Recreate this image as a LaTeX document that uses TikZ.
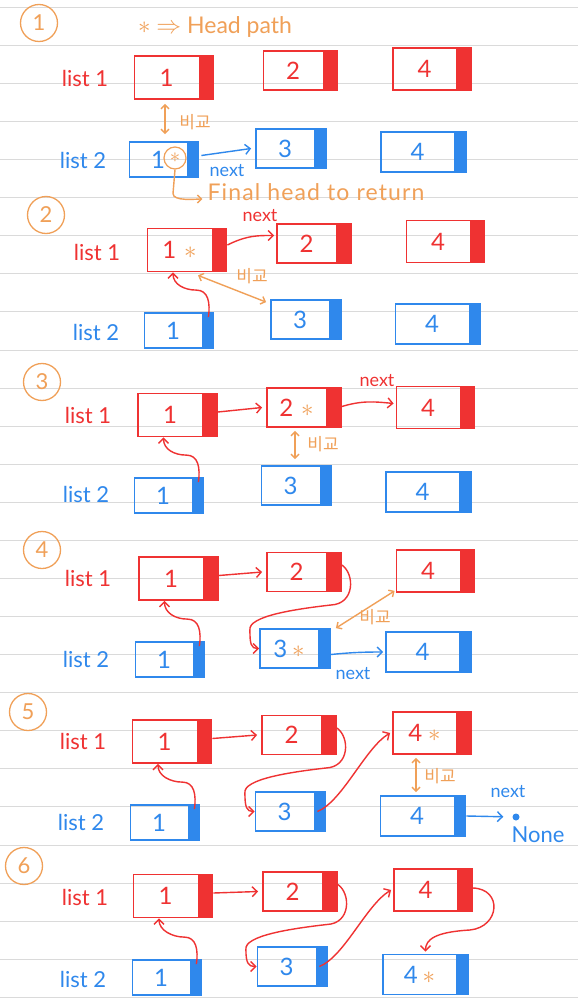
\documentclass[tikz,border=0pt]{standalone}
\usepackage{fontspec}
\setmainfont{Lato}
\newfontfamily\krfont{Noto Sans CJK KR}
\usetikzlibrary{arrows.meta,calc}
\definecolor{mred}{HTML}{EF3232}
\definecolor{mblue}{HTML}{2F88EC}
\definecolor{mora}{HTML}{F0A058}
\definecolor{rulec}{HTML}{DADADA}
\newcommand\st{\textcolor{mora}{$\ast$}}
\newcommand\fs[1]{\fontsize{#1}{#1}\selectfont}
\tikzset{
  rbox/.style={draw=mred, text=mred, line width=1.8pt, inner sep=0pt, font=\fs{24},
    execute at end node={\hspace*{15pt}},
    path picture={\fill[mred] ([xshift=-15pt]path picture bounding box.north east) rectangle (path picture bounding box.south east);}},
  bbox/.style={draw=mblue, text=mblue, line width=1.8pt, inner sep=0pt, font=\fs{24},
    execute at end node={\hspace*{12pt}},
    path picture={\fill[mblue] ([xshift=-12pt]path picture bounding box.north east) rectangle (path picture bounding box.south east);}},
  rA/.style={minimum width=79pt, minimum height=43pt},
  rB/.style={minimum width=74pt, minimum height=39pt},
  rC/.style={minimum width=78pt, minimum height=42pt},
  bA/.style={minimum width=69pt, minimum height=35pt},
  bB/.style={minimum width=70pt, minimum height=39pt},
  bC/.style={minimum width=85pt, minimum height=40pt},
  cnum/.style={circle, draw=mora, line width=1.3pt, text=mora, minimum size=37pt, inner sep=0pt, font=\fs{22}},
  lred/.style={text=mred, font=\fs{22}, inner sep=1pt},
  lblue/.style={text=mblue, font=\fs{22}, inner sep=1pt},
  ntred/.style={text=mred, font=\fs{18}, inner sep=1pt},
  ntblue/.style={text=mblue, font=\fs{18}, inner sep=1pt},
  otxt/.style={text=mora, font=\fs{23}, inner sep=1pt},
  cmpl/.style={text=mora, font=\krfont\fs{17}, inner sep=1pt},
  starc/.style={circle, draw=mora, line width=1.2pt, text=mora, minimum size=22pt, inner sep=0pt, font=\fs{20}},
  ra/.style={draw=mred, line width=1.4pt, -{Straight Barb[length=5pt,width=10pt]}},
  ba/.style={draw=mblue, line width=1.4pt, -{Straight Barb[length=5pt,width=10pt]}},
  oa/.style={draw=mora, line width=1.4pt, -{Straight Barb[length=4pt,width=8pt]}},
  cmp/.style={draw=mora, line width=1.4pt, {Straight Barb[length=4pt,width=8pt]}-{Straight Barb[length=4pt,width=8pt]}},
  dotn/.style={circle, fill=mblue, minimum size=7pt, inner sep=0pt},
}
\newcommand\scurve[1]{\draw[ra] ($(#1b1.north east)+(-6,5)$) .. controls +(2,-14) and +(12,0) .. ($(#1b1.north east)+(-18,-22)$) .. controls +(-12,0) and +(0,12) .. ($(#1r1.south)+(-14,0)$);}
\newcommand\rtob[1]{\draw[ra] ($(#1r2.east)+(0,-7)$) .. controls +(13,9) and +(24,-1) .. ($(#1r2.east)+(-11,33)$) .. controls +(-35,4) and +(-2,-14) .. ($(#1r2.east)+(-92,58)$) .. controls +(0,14) and +(-8,0) .. (#1b3.west);}
\newcommand\btor[1]{\draw[ra] ($(#1b3.east)+(-9,0)$) .. controls +(25,-10) and +(-25,15) .. ($(#1r4.west)+(-2,0)$);}
\begin{document}
\begin{tikzpicture}[x=1pt, y=-1pt]
\fill[white] (0,0) rectangle (578,1000);
\useasboundingbox (0,0) rectangle (578,1000);
\foreach \k in {0,...,26}{\draw[rulec, line width=1pt] (0,{7.3+38.08*\k}) -- (578,{7.3+38.08*\k});}

% ---------- Panel 1
\node[cnum] (c1) at (39,23) {1};
\node[otxt] (head) at (215,27) {$\ast$ $\Rightarrow$ Head path};
\node[lred] (p1l1) at (85,78) {list 1};
\node[lblue] (p1l2) at (83,160) {list 2};
\node[rbox,rA] (p1r1) at (174,77.5) {1};
\node[rbox,rB] (p1r2) at (300.5,70.5) {2};
\node[rbox,rC] (p1r4) at (432,69) {4};
\node[bbox,bA] (p1b1) at (164,159.5) {1};
\node[bbox,bB] (p1b3) at (291,148.5) {3};
\node[bbox,bC] (p1b4) at (423.5,152) {4};
\node[starc] (p1s) at (175,158) {$\ast$};
\draw[cmp] ($(p1r1.south)+(-9,4)$) -- ($(p1b1.north)+(1,-7)$);
\node[cmpl] (p1c) at (195,122) {비교};
\draw[ba] ($(p1b1.east)+(2,-4)$) -- ($(p1b3.west)+(-4,0)$);
\node[ntblue] (p1n) at (227,171) {next};
\node[otxt, font=\fs{23}\addfontfeature{LetterSpace=5}] (p1final) at (316,192) {Final head to return};
\draw[oa] (p1s.south) -- ($(p1s.south)+(-2,24)$) .. controls +(0,8) and +(-6,0) .. ($(p1final.west)+(-4,7)$);

% ---------- Panel 2
\node[cnum] (c2) at (46,215) {2};
\node[lred] (p2l1) at (97,252) {list 1};
\node[lblue] (p2l2) at (96,332) {list 2};
\node[rbox,rA] (p2r1) at (187,250) {1\hspace{8pt}\st};
\node[rbox,rB] (p2r2) at (314,243.5) {2};
\node[rbox,rC] (p2r4) at (445.5,241.5) {4};
\node[bbox,bA] (p2b1) at (179,330.5) {1};
\node[bbox,bB] (p2b3) at (306,319.5) {3};
\node[bbox,bC] (p2b4) at (438,324) {4};
\draw[ra] ($(p2r1.east)+(0,-5)$) .. controls +(20,-10) and +(-15,0) .. ($(p2r2.west)+(-2,-8)$);
\node[ntred] (p2n) at (260,216) {next};
\draw[cmp] ($(p2r1.south)+(11,3)$) -- ($(p2b3.north west)+(-4,3)$);
\node[cmpl] (p2c) at (252,276) {비교};
\scurve{p2}

% ---------- Panel 3
\node[cnum] (c3) at (42,382) {3};
\node[lred] (p3l1) at (88,415) {list 1};
\node[lblue] (p3l2) at (86,494) {list 2};
\node[rbox,rA] (p3r1) at (177.5,415) {1};
\node[rbox,rB] (p3r2) at (304,407.5) {2\hspace{8pt}\st};
\node[rbox,rC] (p3r4) at (435.5,407.5) {4};
\node[bbox,bA] (p3b1) at (169,495.5) {1};
\node[bbox,bB] (p3b3) at (296.5,485.5) {3};
\node[bbox,bC] (p3b4) at (428.5,492) {4};
\draw[ra] ($(p3r1.east)+(0,-3)$) -- ($(p3r2.west)+(-4,0)$);
\draw[ra] ($(p3r2.east)+(0,-1)$) .. controls +(20,-6) and +(-20,-2) .. ($(p3r4.west)+(-2,-4)$);
\node[ntred] (p3n) at (377,381) {next};
\draw[cmp] ($(p3r2.south)+(-9,3)$) -- ($(p3b3.north)+(-1.5,-6)$);
\node[cmpl] (p3c) at (323,444) {비교};
\scurve{p3}

% ---------- Panel 4
\node[cnum] (c4) at (42,550) {4};
\node[lred] (p4l1) at (88,578) {list 1};
\node[lblue] (p4l2) at (86,659) {list 2};
\node[rbox,rA] (p4r1) at (178.5,578.5) {1};
\node[rbox,rB] (p4r2) at (304,572) {2};
\node[rbox,rC] (p4r4) at (435.5,571) {4};
\node[bbox,bA] (p4b1) at (170,659.5) {1};
\node[bbox,bB] (p4b3) at (295,648.5) {3\hspace{5pt}\st};
\node[bbox,bC] (p4b4) at (428.5,652) {4};
\draw[ra] ($(p4r1.east)+(0,-3)$) -- ($(p4r2.west)+(-4,0)$);
\rtob{p4}
\draw[cmp] ($(p4r4.south west)+(-1,-2)$) -- ($(p4b3.north east)+(5,0)$);
\node[cmpl] (p4c) at (375,617) {비교};
\draw[ba] ($(p4b3.east)+(0,6)$) .. controls +(20,-2) and +(-20,0) .. ($(p4b4.west)+(-2,0)$);
\node[ntblue] (p4n) at (353,674) {next};
\scurve{p4}

% ---------- Panel 5
\node[cnum] (c5) at (28,712) {5};
\node[lred] (p5l1) at (83,741) {list 1};
\node[lblue] (p5l2) at (81,822) {list 2};
\node[rbox,rA] (p5r1) at (172,741.5) {1};
\node[rbox,rB] (p5r2) at (299,735) {2};
\node[rbox,rC] (p5r4) at (432,733) {4\hspace{6pt}\st};
\node[bbox,bA] (p5b1) at (165,822.5) {1};
\node[bbox,bB] (p5b3) at (290.5,811.5) {3};
\node[bbox,bC] (p5b4) at (423,816) {4};
\draw[ra] ($(p5r1.east)+(0,-3)$) -- ($(p5r2.west)+(-4,0)$);
\rtob{p5}
\btor{p5}
\draw[cmp] ($(p5r4.south)+(-16,3)$) -- ($(p5b4.north)+(-7,-3)$);
\node[cmpl] (p5c) at (440,776) {비교};
\node[dotn] (p5none) at (516,817) {};
\draw[ba, shorten >=9pt] (p5b4.east) -- (p5none);
\node[ntblue] (p5n) at (508,792) {next};
\node[lblue] (p5nt) at (538,835) {None};
\scurve{p5}

% ---------- Panel 6
\node[cnum] (c6) at (24,866) {6};
\node[lred] (p6l1) at (85,897) {list 1};
\node[lblue] (p6l2) at (83,979) {list 2};
\node[rbox,rA] (p6r1) at (173,896) {1};
\node[rbox,rB] (p6r2) at (300,891.5) {2};
\node[rbox,rC] (p6r4) at (433,890) {4};
\node[bbox,bA] (p6b1) at (167,977.5) {1};
\node[bbox,bB] (p6b3) at (292.5,966.5) {3};
\node[bbox,bC] (p6b4) at (425.5,974.5) {4\hspace{5pt}\st};
\draw[ra] ($(p6r1.east)+(0,-3)$) -- ($(p6r2.west)+(-4,0)$);
\rtob{p6}
\btor{p6}
\draw[ra] ($(p6r4.east)+(0,-2)$) .. controls +(30,1) and +(30,-3) .. ($(p6r4.east)+(-3,40)$) .. controls +(-35,2) and +(0,-12) .. ($(p6b4.north)+(0,-2)$);
\scurve{p6}
\end{tikzpicture}
\end{document}
